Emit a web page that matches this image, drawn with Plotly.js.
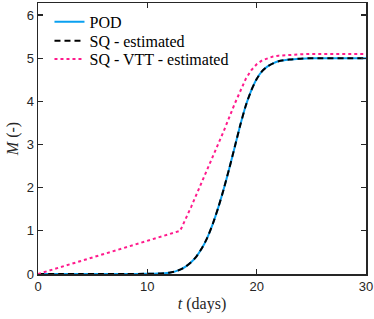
<!DOCTYPE html>
<html>
<head>
<meta charset="utf-8">
<script src="https://cdn.plot.ly/plotly-3.0.1.min.js"></script>
<style>html,body{margin:0;padding:0;background:#fff;}#chart{width:374px;height:319px;}</style>
</head>
<body>
<div id="chart"></div>
<script>
// Data
var tPOD = [0, 2, 4, 6, 8, 10, 11, 12, 12.5, 13, 13.5, 14, 14.5, 15, 15.5, 16, 16.5, 17, 17.5, 18, 18.5, 19, 19.5, 20, 20.5, 21, 21.5, 22, 23, 24, 25, 26, 28, 30];
var mPOD = [0, 0, 0, 0, 0.001, 0.004, 0.01, 0.03, 0.055, 0.1, 0.17, 0.27, 0.41, 0.6, 0.85, 1.17, 1.55, 1.98, 2.45, 2.95, 3.45, 3.9, 4.25, 4.52, 4.7, 4.81, 4.88, 4.93, 4.97, 4.99, 5.0, 5.0, 5.0, 5.0];
var tSQ = tPOD;
var mSQ = mPOD;
var tVTT = [0, 13, 14, 15, 16, 17, 18, 18.5, 19, 19.5, 20, 20.5, 21, 21.5, 22, 23, 24, 25, 27, 30];
var mVTT = [0, 1, 1.55, 2.13, 2.72, 3.32, 3.95, 4.25, 4.52, 4.72, 4.86, 4.95, 5.0, 5.04, 5.06, 5.08, 5.09, 5.1, 5.1, 5.1];
var xTicks = [0, 10, 20, 30];
var yTicks = [0, 1, 2, 3, 4, 5, 6];

var traces = [
  {x: tPOD, y: mPOD, mode: 'lines', name: 'POD', legend: 'legend', line: {color: '#0aa0f0', width: 2, shape: 'spline', smoothing: 0.6}},
  {x: tSQ, y: mSQ, mode: 'lines', name: 'SQ - estimated', legend: 'legend2', line: {color: '#000000', width: 2, dash: '6px,4px', shape: 'spline', smoothing: 0.6}},
  {x: tVTT, y: mVTT, mode: 'lines', name: 'SQ - VTT - estimated', legend: 'legend3', line: {color: '#ff1a8c', width: 2, dash: 'dot', shape: 'linear'}}
];

var axisCommon = {
  showline: true, linecolor: '#262626', linewidth: 1.5, mirror: 'ticks',
  ticks: 'inside', ticklen: 5, tickwidth: 1.2, tickcolor: '#262626',
  showgrid: false, zeroline: false,
  tickfont: {family: 'Liberation Sans, Arial, sans-serif', size: 13, color: '#262626'}
};

function leg(y) {
  return {x: 0.035, y: y, xanchor: 'left', yanchor: 'middle', bgcolor: 'rgba(255,255,255,0)',
          font: {family: 'Liberation Serif, Times New Roman, serif', size: 16, color: '#000'},
          itemwidth: 30};
}

var layout = {
  width: 374, height: 319,
  margin: {l: 38, r: 8, t: 3, b: 45},
  paper_bgcolor: '#fff', plot_bgcolor: '#fff',
  showlegend: true,
  legend: leg(0.93),
  legend2: leg(0.86),
  legend3: leg(0.793),
  xaxis: Object.assign({}, axisCommon, {range: [0, 30], tickvals: xTicks,
    title: {text: '<i>t</i> (days)', font: {family: 'Liberation Serif, serif', size: 16, color: '#262626'}, standoff: 4}}),
  yaxis: Object.assign({}, axisCommon, {range: [0, 6.28], tickvals: yTicks,
    title: {text: '<i>M</i> (-)', font: {family: 'Liberation Serif, serif', size: 16, color: '#262626'}, standoff: 4}})
};

Plotly.newPlot('chart', traces, layout, {displayModeBar: false, staticPlot: true});
</script>
</body>
</html>
